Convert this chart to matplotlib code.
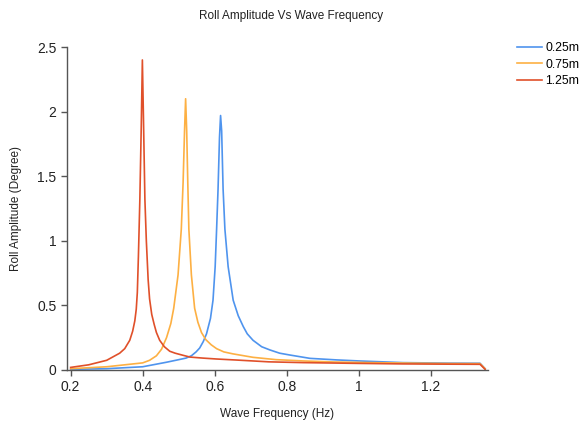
import matplotlib
matplotlib.use("Agg")
import matplotlib.pyplot as plt

# lectura aproximada de la figura original
freq_025 = [0.20, 0.30, 0.40, 0.466, 0.50, 0.52, 0.535, 0.548, 0.558, 0.568, 0.577, 0.588,
            0.595, 0.601, 0.605, 0.609, 0.613, 0.616, 0.619, 0.623, 0.628, 0.637, 0.651,
            0.665, 0.679, 0.69, 0.706, 0.73, 0.753, 0.78, 0.808, 0.864, 0.938, 1.0, 1.122,
            1.25, 1.336, 1.35]
amp_025 = [0.005, 0.01, 0.025, 0.06, 0.08, 0.092, 0.11, 0.14, 0.17, 0.22, 0.28, 0.40,
           0.54, 0.80, 1.09, 1.40, 1.80, 1.97, 1.85, 1.40, 1.09, 0.80, 0.54,
           0.42, 0.336, 0.28, 0.23, 0.18, 0.155, 0.13, 0.116, 0.09, 0.078, 0.07, 0.057,
           0.053, 0.052, 0.01]

freq_075 = [0.20, 0.30, 0.40, 0.419, 0.438, 0.452, 0.466, 0.478, 0.486, 0.498, 0.507, 0.512,
            0.516, 0.519, 0.522, 0.525, 0.528, 0.535, 0.544, 0.553, 0.563, 0.575, 0.59,
            0.605, 0.625, 0.65, 0.706, 0.77, 0.845, 0.93, 1.03, 1.15, 1.25, 1.336, 1.35]
amp_075 = [0.01, 0.025, 0.055, 0.075, 0.11, 0.16, 0.25, 0.36, 0.478, 0.736, 1.09, 1.45,
           1.85, 2.10, 1.85, 1.45, 1.09, 0.736, 0.478, 0.37, 0.29, 0.235, 0.195,
           0.165, 0.14, 0.125, 0.098, 0.08, 0.07, 0.062, 0.057, 0.053, 0.05, 0.049, 0.01]

freq_125 = [0.20, 0.25, 0.30, 0.336, 0.35, 0.364, 0.372, 0.378, 0.382, 0.385, 0.388, 0.392,
            0.396, 0.399, 0.402, 0.406, 0.410, 0.415, 0.419, 0.425, 0.432, 0.438, 0.447,
            0.46, 0.475, 0.49, 0.51, 0.531, 0.567, 0.605, 0.66, 0.75, 0.845, 1.0, 1.122,
            1.25, 1.336, 1.35]
amp_125 = [0.02, 0.04, 0.075, 0.13, 0.165, 0.23, 0.30, 0.38, 0.47, 0.60, 0.88, 1.32,
           1.90, 2.40, 1.95, 1.32, 1.00, 0.70, 0.55, 0.43, 0.35, 0.29, 0.23,
           0.18, 0.145, 0.13, 0.115, 0.10, 0.092, 0.085, 0.077, 0.063, 0.057, 0.051, 0.047,
           0.045, 0.044, 0.005]

series = [("0.25m", freq_025, amp_025, "#4f94ee"),
          ("0.75m", freq_075, amp_075, "#fdb043"),
          ("1.25m", freq_125, amp_125, "#e0502a")]

x_ticks = [0.2, 0.4, 0.6, 0.8, 1.0, 1.2]
x_tick_labels = ["0.2", "0.4", "0.6", "0.8", "1", "1.2"]
y_ticks = [0, 0.5, 1, 1.5, 2, 2.5]
y_tick_labels = ["0", "0.5", "1", "1.5", "2", "2.5"]

plt.rcParams["font.family"] = ["Liberation Sans", "DejaVu Sans"]

fig = plt.figure(figsize=(5.83, 4.24), dpi=100)
ax = fig.add_axes([0.1144, 0.1274, 0.837 - 0.1144, 0.889 - 0.1274])

for nombre, f, a, color in series:
    ax.plot(f, a, color=color, lw=1.2, label=nombre)

ax.set_xlim(0.189, 1.358)
ax.set_ylim(0, 2.5)
ax.set_xticks(x_ticks)
ax.set_xticklabels(x_tick_labels)
ax.set_yticks(y_ticks)
ax.set_yticklabels(y_tick_labels)
ax.tick_params(labelsize=10, length=4, width=1, color="#555555", labelcolor="#222222")

for lado in ["top", "right"]:
    ax.spines[lado].set_visible(False)
for lado in ["left", "bottom"]:
    ax.spines[lado].set_color("#555555")
    ax.spines[lado].set_linewidth(1)

fig.text(0.5, 0.963, "Roll Amplitude Vs Wave Frequency", ha="center", va="center",
         fontsize=8.5, color="#222222")
ax.set_xlabel("Wave Frequency (Hz)", fontsize=8.5, color="#222222", labelpad=10)
ax.set_ylabel("Roll Amplitude (Degree)", fontsize=8.5, color="#222222", labelpad=11)

ax.legend(loc="upper left", bbox_to_anchor=(1.058, 1.03), frameon=False, fontsize=8.8,
          handlelength=2.0, handletextpad=0.3, labelspacing=0.35, borderaxespad=0)

fig.savefig("out.png", dpi=100)
plt.close(fig)
